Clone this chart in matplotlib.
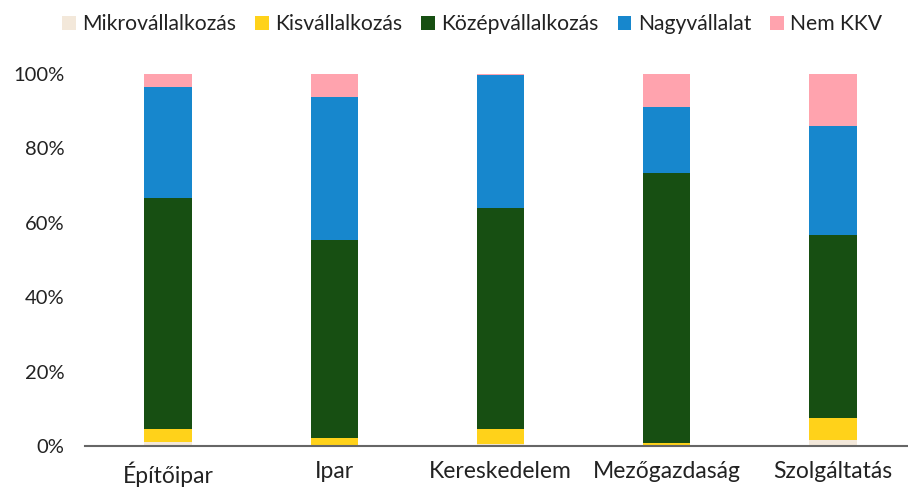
import matplotlib
matplotlib.use("Agg")
import matplotlib.pyplot as plt
import numpy as np

plt.rcParams['font.family'] = ['Lato', 'DejaVu Sans']

categories = ["Építőipar", "Ipar", "Kereskedelem", "Mezőgazdaság", "Szolgáltatás"]
series_names = ["Mikrovállalkozás", "Kisvállalkozás", "Középvállalkozás", "Nagyvállalat", "Nem KKV"]
mikro = [1.0, 0.2, 0.5, 0.1, 1.5]
kis = [3.7, 2.0, 4.2, 0.7, 6.0]
kozep = [62.1, 53.3, 59.2, 72.7, 49.1]
nagy = [29.8, 38.4, 35.7, 17.6, 29.5]
nem_kkv = [3.4, 6.1, 0.4, 8.9, 13.9]
yticks = [0, 20, 40, 60, 80, 100]
ytick_labels = ["0%", "20%", "40%", "60%", "80%", "100%"]

colors = ["#F3E8DA", "#FFD21A", "#174F12", "#1787CD", "#FFA3AE"]

fig = plt.figure(figsize=(9.08, 4.87), dpi=100)
ax = fig.add_axes([85 / 908, (487 - 446) / 487, 831 / 908, (446 - 74) / 487])

x = np.arange(len(categories))
bottom = np.zeros(len(categories))
for name, vals, c in zip(series_names, [mikro, kis, kozep, nagy, nem_kkv], colors):
    ax.bar(x, vals, bottom=bottom, width=0.285, color=c, label=name, linewidth=0)
    bottom += np.array(vals)

ax.set_xlim(-0.5, 4.5)
ax.set_ylim(0, 100)
ax.set_yticks(yticks)
ax.set_yticklabels(ytick_labels, fontsize=14.5, color="#222222")
ax.set_xticks(x)
ax.set_xticklabels(categories, fontsize=16.5, color="#222222")
ax.tick_params(axis='y', length=0, pad=15)
ax.tick_params(axis='x', length=0, pad=11)
for s in ["top", "right", "left"]:
    ax.spines[s].set_visible(False)
ax.spines["bottom"].set_color("#666666")
ax.spines["bottom"].set_linewidth(1.5)
ax.spines["bottom"].set_clip_on(False)

leg = fig.legend(loc="upper center", bbox_to_anchor=(0.52, 1.01), ncol=5, frameon=False,
                 fontsize=15.2, handlelength=0.65, handleheight=0.65, handletextpad=0.3,
                 columnspacing=0.9)
for t in leg.get_texts():
    t.set_color("#222222")

fig.savefig("out.png", dpi=100)
